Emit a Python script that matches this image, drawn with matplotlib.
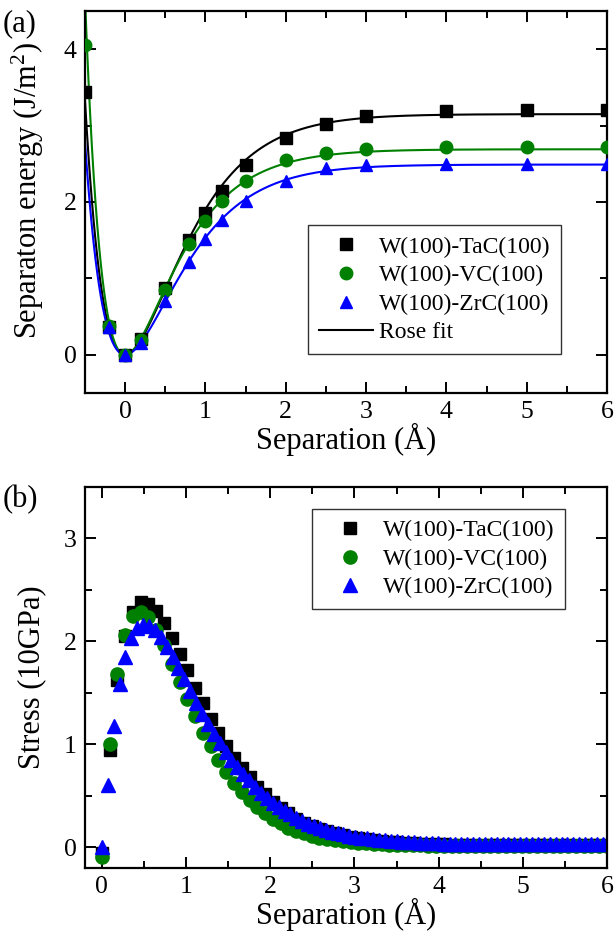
import numpy as np
import matplotlib
matplotlib.use("Agg")
import matplotlib.pyplot as plt
from matplotlib.ticker import MultipleLocator

plt.rcParams['font.family'] = ['Liberation Serif', 'DejaVu Serif']
plt.rcParams['mathtext.fontset'] = 'custom'
plt.rcParams['mathtext.rm'] = 'Liberation Serif'
plt.rcParams['mathtext.it'] = 'Liberation Serif:italic'

labels = ["W(100)-TaC(100)", "W(100)-VC(100)", "W(100)-ZrC(100)"]
colors = ["black", "green", "blue"]
markers = ["s", "o", "^"]

# (a) separation energy, J/m^2
sep_tac = [-0.5, -0.2, 0.0, 0.2, 0.5, 0.8, 1.0, 1.2, 1.5, 2.0, 2.5, 3.0, 4.0, 5.0, 6.0]
en_tac = [3.44, 0.37, 0.00, 0.21, 0.87, 1.50, 1.86, 2.15, 2.49, 2.84, 3.02, 3.12, 3.19, 3.20, 3.20]
sep_vc = [-0.5, -0.2, 0.0, 0.2, 0.5, 0.8, 1.0, 1.2, 1.5, 2.0, 2.5, 3.0, 4.0, 5.0, 6.0]
en_vc = [4.05, 0.38, 0.00, 0.20, 0.85, 1.45, 1.75, 2.01, 2.27, 2.55, 2.64, 2.70, 2.72, 2.72, 2.72]
sep_zrc = [-0.2, 0.0, 0.2, 0.5, 0.8, 1.0, 1.2, 1.5, 2.0, 2.5, 3.0, 4.0, 5.0, 6.0]
en_zrc = [0.37, 0.00, 0.15, 0.71, 1.21, 1.52, 1.77, 2.01, 2.27, 2.44, 2.48, 2.50, 2.50, 2.50]

# Rose fit parameters: work of adhesion W, scaling length l, cubic coefficient beta
fit_W = [3.15, 2.69, 2.49]
fit_l = [0.49, 0.42, 0.48]
fit_beta = [0.0, 0.02, 0.0]

# (b) stress, 10 GPa
dx_a = 6.0 / 65
str_tac = [-0.05, 0.95, 1.63, 2.05, 2.29, 2.38, 2.36, 2.30, 2.18, 2.03,
           1.88, 1.72, 1.55, 1.40, 1.25, 1.11, 0.98, 0.87, 0.77, 0.68,
           0.59, 0.52, 0.44, 0.38, 0.33, 0.28, 0.24, 0.21, 0.18, 0.16,
           0.14, 0.12, 0.10, 0.09, 0.08, 0.07, 0.06, 0.05, 0.05, 0.04,
           0.04, 0.03, 0.03, 0.03, 0.03, 0.02, 0.02, 0.02, 0.02, 0.02,
           0.02, 0.02, 0.02, 0.02, 0.02, 0.02, 0.02, 0.02, 0.02, 0.02,
           0.02, 0.02, 0.02, 0.02, 0.02, 0.02]
str_vc = [-0.09, 1.00, 1.68, 2.06, 2.25, 2.29, 2.24, 2.11, 1.97, 1.78,
          1.61, 1.44, 1.28, 1.11, 0.98, 0.85, 0.73, 0.63, 0.54, 0.46,
          0.39, 0.33, 0.28, 0.24, 0.19, 0.16, 0.14, 0.11, 0.09, 0.08,
          0.07, 0.06, 0.05, 0.04, 0.04, 0.03, 0.03, 0.02, 0.02, 0.02,
          0.02, 0.02, 0.01, 0.01, 0.01, 0.01, 0.01, 0.01, 0.01, 0.01,
          0.01, 0.01, 0.01, 0.01, 0.01, 0.01, 0.01, 0.01, 0.01, 0.01,
          0.01, 0.01, 0.01, 0.01, 0.01, 0.01]
dx_b = 0.07
str_zrc = [0.00, 0.61, 1.18, 1.59, 1.85, 2.03, 2.13, 2.16, 2.15, 2.11,
           2.04, 1.95, 1.85, 1.74, 1.64, 1.52, 1.40, 1.30, 1.20, 1.10,
           1.01, 0.93, 0.85, 0.78, 0.71, 0.65, 0.59, 0.53, 0.48, 0.43,
           0.39, 0.35, 0.32, 0.29, 0.26, 0.23, 0.21, 0.19, 0.17, 0.15,
           0.14, 0.13, 0.11, 0.10, 0.09, 0.09, 0.08, 0.07, 0.07, 0.06,
           0.06, 0.05, 0.05, 0.05, 0.04, 0.04, 0.04, 0.04, 0.03, 0.03,
           0.03, 0.03, 0.03, 0.03, 0.03, 0.03, 0.03, 0.03, 0.03, 0.03,
           0.03, 0.03, 0.03, 0.03, 0.03, 0.03, 0.03, 0.03, 0.03, 0.03,
           0.03, 0.03, 0.03, 0.03, 0.03, 0.03]


def rose(d, W, l, beta):
    u = d / l
    return W * (1 - (1 + u + beta * u**3) * np.exp(-u))


def style_axes(ax):
    for s in ax.spines.values():
        s.set_linewidth(1.6)
    ax.tick_params(which='both', direction='in', top=True, right=True,
                   labelsize=18.5, width=1.4)
    ax.tick_params(which='major', length=8, pad=6)
    ax.tick_params(which='minor', length=5)


def add_legend(ax, loc, anchor):
    leg = ax.legend(loc=loc, bbox_to_anchor=anchor, fontsize=17, frameon=True,
                    fancybox=False, edgecolor='black', handlelength=2.3,
                    handletextpad=0.25, labelspacing=0.3, borderpad=0.45,
                    borderaxespad=0)
    leg.get_frame().set_linewidth(1.0)
    return leg


fig = plt.figure(figsize=(6.14, 9.41), dpi=100)
W_px, H_px = 614, 941

# (a)
ax1 = fig.add_axes([85 / W_px, 1 - 393 / H_px, 522 / W_px, 382 / H_px])
sep_sets = [sep_tac, sep_vc, sep_zrc]
en_sets = [en_tac, en_vc, en_zrc]
d = np.linspace(-0.5, 6.0, 600)
for i in range(3):
    ax1.plot(d, rose(d, fit_W[i], fit_l[i], fit_beta[i]), color=colors[i], lw=1.5, zorder=2)
for i in range(3):
    ax1.plot(sep_sets[i], en_sets[i], ls='none', marker=markers[i], color=colors[i],
             ms=9 if markers[i] != 's' else 8, label=labels[i], zorder=3)
ax1.plot([], [], color='black', lw=1.5, label='Rose fit')
ax1.set_xlim(-0.5, 6)
ax1.set_ylim(-0.5, 4.5)
ax1.xaxis.set_major_locator(MultipleLocator(1))
ax1.xaxis.set_minor_locator(MultipleLocator(0.5))
ax1.yaxis.set_major_locator(MultipleLocator(2))
ax1.yaxis.set_minor_locator(MultipleLocator(1))
style_axes(ax1)
ax1.set_xlabel("Separation (Å)", fontsize=22, labelpad=0)
ax1.set_ylabel("Separaton energy (J/m$^2$)", fontsize=22)
ax1.yaxis.set_label_coords(-0.075, 0.53)
add_legend(ax1, 'lower right', (0.912, 0.102))
fig.text(0.005, 0.99, "(a)", fontsize=22, va='top', ha='left')

# (b)
ax2 = fig.add_axes([85 / W_px, 1 - 868 / H_px, 522 / W_px, 381 / H_px])
x_a = np.arange(len(str_tac)) * dx_a
x_b = np.arange(len(str_zrc)) * dx_b
ax2.plot(x_a, str_tac, ls='none', marker='s', color='black', ms=8, label=labels[0])
ax2.plot(x_a, str_vc, ls='none', marker='o', color='green', ms=9.5, label=labels[1])
ax2.plot(x_b, str_zrc, ls='none', marker='^', color='blue', ms=10.5, label=labels[2])
ax2.set_xlim(-0.2, 6)
ax2.set_ylim(-0.2, 3.5)
ax2.xaxis.set_major_locator(MultipleLocator(1))
ax2.xaxis.set_minor_locator(MultipleLocator(0.5))
ax2.yaxis.set_major_locator(MultipleLocator(1))
ax2.yaxis.set_minor_locator(MultipleLocator(0.5))
style_axes(ax2)
ax2.set_xlabel("Separation (Å)", fontsize=22, labelpad=0)
ax2.set_ylabel("Stress (10GPa)", fontsize=22)
ax2.yaxis.set_label_coords(-0.075, 0.5)
add_legend(ax2, 'upper right', (0.9195, 0.942))
fig.text(0.005, 0.485, "(b)", fontsize=22, va='top', ha='left')

fig.savefig("out.png", dpi=100)
